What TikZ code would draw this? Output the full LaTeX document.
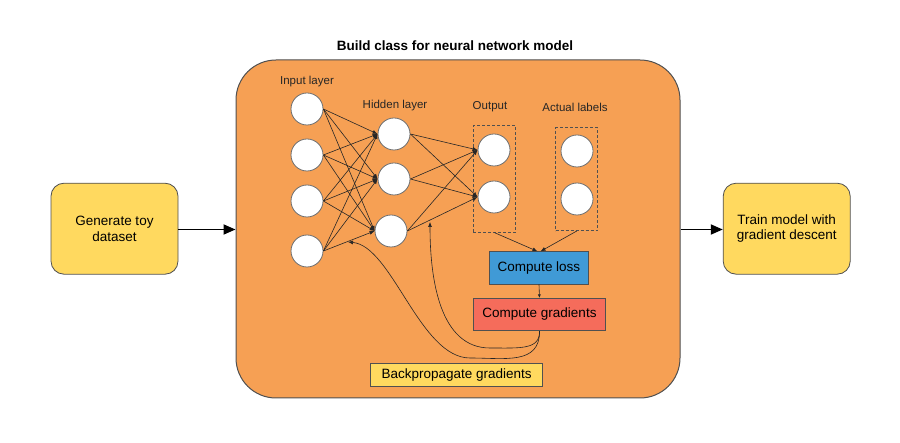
\documentclass[tikz,border=0pt]{standalone}
\usepackage{fontspec}
\setmainfont{Liberation Sans}
\usepackage{tikz}
\usetikzlibrary{arrows.meta, positioning}
\definecolor{modelorange}{RGB}{246, 160, 84}
\definecolor{stepyellow}{RGB}{255, 217, 95}
\definecolor{lossblue}{RGB}{64, 154, 214}
\definecolor{gradred}{RGB}{245, 108, 91}
\definecolor{edgegrey}{RGB}{80, 80, 80}
\definecolor{ringgrey}{RGB}{110, 110, 110}
\newcommand{\boxfont}{\fontsize{13.5}{15.5}\selectfont}
\newcommand{\labelfont}{\fontsize{11.5}{13}\selectfont}

\begin{document}
\begin{tikzpicture}[x=1pt, y=-1pt,
  neuron/.style={circle, draw=ringgrey, fill=white, line width=0.8pt, minimum size=32pt, inner sep=0pt},
  layerlabel/.style={font=\labelfont, text=black!85},
  stepbox/.style={draw=edgegrey, line width=0.8pt, rounded corners=13pt, fill=stepyellow, font=\boxfont, align=center, minimum width=127pt, minimum height=91pt},
  procbox/.style={draw=edgegrey, line width=0.8pt, font=\boxfont, inner sep=0pt},
  groupbox/.style={draw=edgegrey, line width=0.7pt, dash pattern=on 3pt off 2pt, inner sep=0pt},
  edge/.style={draw=black!85, line width=0.6pt, -{Latex[length=5pt, width=4pt]}},
  flow/.style={draw=black, line width=1.8pt, -{Triangle[length=12pt, width=10pt]}}]

  \useasboundingbox (0,0) rectangle (900,443);
  \fill[white] (0,0) rectangle (900,443);

  % model container
  \node[draw=edgegrey, line width=1pt, fill=modelorange, rounded corners=40pt, minimum width=444pt, minimum height=338pt] (model) at (458,229) {};
  \node[font=\boxfont\bfseries] (title) at (455,46) {Build class for neural network model};

  % outer steps
  \node[stepbox] (gen) at (114.5,228.7) {Generate toy\\dataset};
  \node[stepbox] (train) at (786.7,228.7) {Train model with\\gradient descent};
  \draw[flow] (gen.east |- 0,229.5) -- (model.west |- 0,229.5);
  \draw[flow] (model.east |- 0,229.5) -- (train.west |- 0,229.5);

  % layers
  \node[neuron] (i1) at (307,109) {};
  \node[neuron] (i2) at (307,155) {};
  \node[neuron] (i3) at (307,201) {};
  \node[neuron] (i4) at (307,251) {};
  \node[neuron] (h1) at (394,134) {};
  \node[neuron] (h2) at (394,179) {};
  \node[neuron] (h3) at (391,231) {};
  \node[neuron] (o1) at (494,150) {};
  \node[neuron] (o2) at (494,197) {};
  \node[neuron] (a1) at (577,151) {};
  \node[neuron] (a2) at (577,199) {};

  \node[layerlabel] (inlabel) at (307,82) {Input layer};
  \node[layerlabel] (hidlabel) at (395,106) {Hidden layer};
  \node[layerlabel] (outlabel) at (490,107) {Output};
  \node[layerlabel] (actlabel) at (575,107) {Actual labels};

  \node[groupbox, minimum width=42.4pt, minimum height=106.6pt] (outbox) at (494.5,179) {};
  \node[groupbox, minimum width=42pt, minimum height=103pt] (actbox) at (576.7,179.2) {};

  \foreach \i in {1,...,4}
    \foreach \h in {1,2,3}
      \draw[edge] (i\i.east) -- (h\h.west);
  \foreach \h in {1,2,3}
    \foreach \o in {1,2}
      \draw[edge] (h\h.east) -- (o\o.west);

  % loss and gradients
  \node[procbox, fill=lossblue, minimum width=98.6pt, minimum height=32.3pt] (loss) at (539,267.9) {Compute loss};
  \node[procbox, fill=gradred, minimum width=132.4pt, minimum height=32.4pt] (grad) at (539.5,314.5) {Compute gradients};
  \node[procbox, fill=stepyellow, minimum width=172pt, minimum height=23.4pt] (back) at (456.7,375) {Backpropagate gradients};

  \draw[edge] (outbox.south) -- ([xshift=-1.5pt]loss.north);
  \draw[edge] (actbox.south) -- ([xshift=1.5pt]loss.north);
  \draw[edge, -{Latex[length=3.5pt, width=3pt]}] (loss.south) -- (grad.north);

  % backpropagation curves
  \coordinate (tohid) at (348,242);
  \coordinate (toout) at (430,222);
  \draw[edge] (grad.south) .. controls (540,365) and (505,358) .. (470,358)
    .. controls (420,358) and (392,246) .. (tohid);
  \draw[edge] (grad.south) .. controls (540,350) and (520,348) .. (490,348)
    .. controls (440,348) and (430,280) .. (toout);
\end{tikzpicture}
\end{document}
